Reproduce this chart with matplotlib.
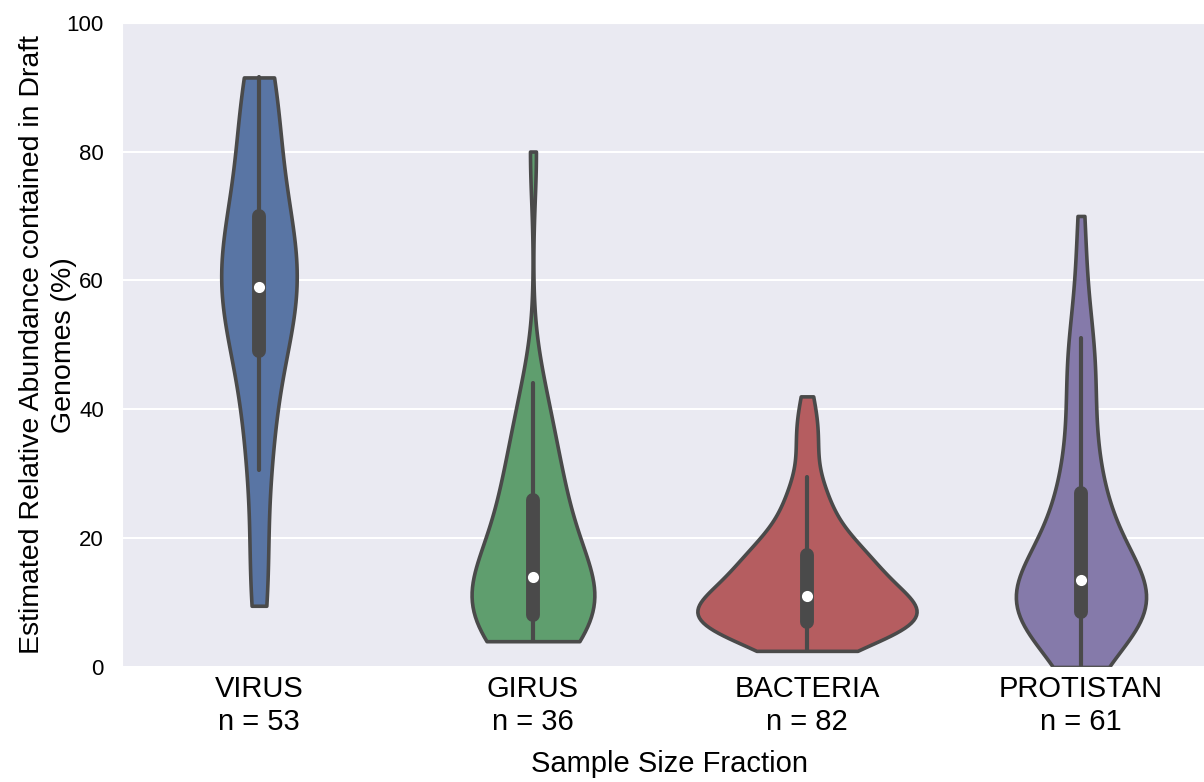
import numpy as np
import pandas as pd
import matplotlib
matplotlib.use("Agg")
import matplotlib.pyplot as plt
import seaborn as sns

# estimated samples for each size fraction
virus = [9.5, 11.5, 13.5, 15.5, 17, 30.5, 31.5, 33, 35, 37, 39.5, 42, 45, 49,
         50, 51, 52, 53, 54, 55, 56, 56.5, 57, 57.5, 58, 58.5, 59,
         60, 61, 62, 63, 64, 65, 66, 67, 67.5, 68, 69, 69.5, 70,
         72.5, 75, 77.5, 80, 82, 84, 85.5, 87, 88.5, 89.5, 90.5, 91, 91.5]
girus = [4, 4.5, 5, 5.5, 6, 6.5, 7, 7.5, 8, 8, 9, 10, 10.5, 11, 12, 12.5, 13,
         13.5, 14.5, 15.5, 17, 18.5, 20, 21.5, 23, 24.5, 25.5, 27, 29, 31, 33, 35,
         38, 41, 44, 80]
bacteria = [2.5, 3, 3.5, 4, 4.5, 5, 5, 5.5, 5.5, 6, 6, 6, 6.5, 6.5, 6.5, 6.5, 7,
            7, 7, 7, 7,
            7, 7.5, 7.5, 8, 8, 8, 8.5, 8.5, 9, 9, 9, 9, 9.5, 9.5, 10, 10, 10, 10.5,
            10.5, 11,
            11, 11.5, 12, 12, 12.5, 13, 13, 13.5, 14, 14, 14.5, 15, 15, 15.5, 16,
            16, 16.5, 16.5, 17, 17,
            17.5, 18, 18.5, 19, 19.5, 20, 20.5, 21, 22, 23, 24, 25, 26, 27, 28,
            29.5, 33.5, 35, 37, 39, 42]
protistan = [0, 5, 6, 6.5, 7, 7, 7.5, 7.5, 7.5, 8, 8, 8, 8, 8.5, 8.5, 8.5,
             9, 9, 9.5, 9.5, 10, 10, 10.5, 10.5, 11, 11, 11.5, 12, 12.5, 13, 13.5,
             14, 14.5, 15, 16, 17, 18, 19, 20, 21, 22, 23, 24, 25, 26, 27,
             29, 31, 33, 35, 37.5, 40, 42.5, 45, 47, 49, 50, 51, 57, 63, 70]

groups = ["VIRUS", "GIRUS", "BACTERIA", "PROTISTAN"]
samples = [virus, girus, bacteria, protistan]
colors = ["#4C72B0", "#55A868", "#C44E52", "#8172B2"]

rows = []
for g, vals in zip(groups, samples):
    for v in vals:
        rows.append((g, v))
df = pd.DataFrame(rows, columns=["fraction", "abundance"])

sns.set_style("darkgrid")
plt.rcParams["font.family"] = ["Liberation Sans", "DejaVu Sans"]
plt.rcParams["text.color"] = "black"
plt.rcParams["axes.labelcolor"] = "black"
plt.rcParams["xtick.color"] = "black"
plt.rcParams["ytick.color"] = "black"

fig = plt.figure(figsize=(12.04, 7.82), dpi=100)
# axes runs a little past the right edge, as in the original crop
ax = fig.add_axes([0.1013, 0.1471, 0.9103, 0.8239])

sns.violinplot(data=df, x="fraction", y="abundance", hue="fraction",
               order=groups, hue_order=groups, palette=colors, legend=False,
               cut=0, inner="box", density_norm="area", common_norm=True,
               width=0.8, linewidth=2.6, linecolor="#4a4a4a",
               inner_kws=dict(box_width=10, whis_width=3, marker="o",
                              markersize=6, color="#4a4a4a"),
               ax=ax)

ax.set_ylim(0, 100)
ax.set_xlim(-0.5, 3.5)
ax.set_yticks([0, 20, 40, 60, 80, 100])
labels = [f"{g}\nn = {len(s)}" for g, s in zip(groups, samples)]
ax.set_xticks(range(4))
ax.set_xticklabels(labels, fontsize=21)
ax.tick_params(axis="y", labelsize=16, pad=13, length=0)
ax.tick_params(axis="x", pad=6, length=0)
ax.grid(axis="x", visible=False)
ax.grid(axis="y", color="white", linewidth=1.5)

ax.set_xlabel("Sample Size Fraction", fontsize=21, labelpad=10)
ax.set_ylabel("Estimated Relative Abundance contained in Draft\nGenomes (%)",
              fontsize=20.5, linespacing=1.3)
ax.yaxis.set_label_coords(-0.041, 0.5)

fig.savefig("out.png", dpi=100)
